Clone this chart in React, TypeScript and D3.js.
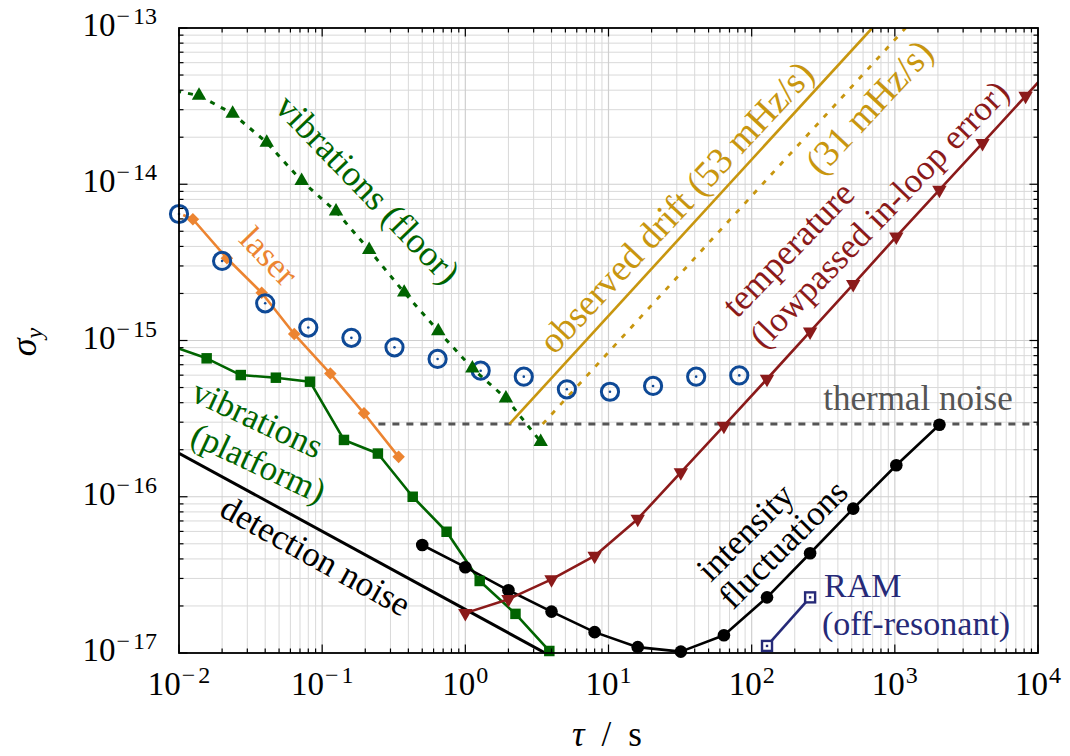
import React from 'react';
import * as d3 from 'd3';

// averaging times (s) and Allan deviations
const measTau = [0.01, 0.02, 0.04, 0.08, 0.16, 0.32, 0.64, 1.28, 2.56, 5.12, 10.24, 20.48, 40.96, 81.92];
const measSigma = [6.45e-15, 3.23e-15, 1.73e-15, 1.21e-15, 1.04e-15, 9.04e-16, 7.62e-16, 6.41e-16, 5.87e-16, 4.87e-16, 4.7e-16, 5.12e-16, 5.87e-16, 5.98e-16];

const laserTau = [0.0107, 0.0125, 0.0216, 0.0378, 0.0638, 0.114, 0.196, 0.342];
const laserSigma = [6.36e-15, 5.97e-15, 3.36e-15, 2.02e-15, 1.1e-15, 6.14e-16, 3.42e-16, 1.8e-16];

const platTau = [0.00897, 0.0156, 0.027, 0.0475, 0.0822, 0.142, 0.245, 0.429, 0.74, 1.26, 2.24, 3.86];
const platSigma = [9.2e-16, 7.69e-16, 6.01e-16, 5.78e-16, 5.45e-16, 2.31e-16, 1.89e-16, 1.0e-16, 5.97e-17, 2.89e-17, 1.78e-17, 1.03e-17];

const floorTau = [0.00792, 0.0138, 0.0237, 0.041, 0.0719, 0.125, 0.213, 0.374, 0.647, 1.12, 1.92, 3.36];
const floorSigma = [4.1e-14, 3.69e-14, 2.83e-14, 1.85e-14, 1.05e-14, 6.7e-15, 3.8e-15, 2.03e-15, 1.15e-15, 6.63e-16, 4.27e-16, 2.25e-16];

const detTau = [0.01, 4];
const detSigma = [1.9e-16, 9.5e-18];

const intTau = [0.5, 1, 2, 4, 8, 16, 32, 64, 128, 256, 512, 1024, 2048];
const intSigma = [4.91e-17, 3.54e-17, 2.52e-17, 1.84e-17, 1.36e-17, 1.09e-17, 1.02e-17, 1.3e-17, 2.27e-17, 4.35e-17, 8.39e-17, 1.59e-16, 2.89e-16];

const tempTau = [1, 2, 4, 8, 16, 32, 64, 128, 256, 512, 1024, 2048, 4096, 8192, 16384];
const tempSigma = [1.8e-17, 2.21e-17, 2.96e-17, 4.18e-17, 7.21e-17, 1.43e-16, 2.84e-16, 5.67e-16, 1.14e-15, 2.29e-15, 4.62e-15, 9.19e-15, 1.83e-14, 3.67e-14, 7.34e-14];

const ramTau = [128, 256];
const ramSigma = [1.11e-17, 2.27e-17];

const drift53Tau = [2.03, 695];
const drift53Sigma = [2.92e-16, 1e-13];
const drift31Tau = [3.47, 1188];
const drift31Sigma = [2.92e-16, 1e-13];

const thermalTau = [0.247, 1e4];
const thermalSigma = [2.92e-16, 2.92e-16];

const xDecades = [-2, -1, 0, 1, 2, 3, 4];
const yDecades = [-17, -16, -15, -14, -13];

const W = 1070;
const H = 756;
const plot = { left: 179, right: 1038, top: 28, bottom: 653 };

const FONT = "'Liberation Serif', 'DejaVu Serif', serif";
const BLUE = '#0e4996';
const ORANGE = '#ec8431';
const GREEN = '#006400';
const GOLD = '#c8960f';
const RED = '#8b1a1a';
const NAVY = '#262a78';
const GRAY = '#555555';

const x = d3.scaleLog().domain([1e-2, 1e4]).range([plot.left, plot.right]);
const y = d3.scaleLog().domain([1e-17, 1e-13]).range([plot.bottom, plot.top]);

const pts = (t: number[], s: number[]) => t.map((v, i) => [v, s[i]] as [number, number]);
const line = d3.line<[number, number]>().x(d => x(d[0])).y(d => y(d[1]));
const inside = (d: [number, number]) => d[0] >= 1e-2 && d[0] <= 1e4 && d[1] >= 1e-17 && d[1] <= 1e-13;

const minorX: number[] = [];
xDecades.slice(0, -1).forEach(e => { for (let k = 2; k <= 9; k++) minorX.push(k * Math.pow(10, e)); });
const minorY: number[] = [];
yDecades.slice(0, -1).forEach(e => { for (let k = 2; k <= 9; k++) minorY.push(k * Math.pow(10, e)); });

// "10" with a superscript exponent; the wide TeX minus is imitated with a little extra spacing
function Pow({ e }: { e: number }) {
  return (
    <>
      10
      {e < 0 ? (
        <tspan style={{ fontSize: 24 }} dy={-12} dx={1}>
          {'\u2212'}<tspan dx={3}>{Math.abs(e)}</tspan>
        </tspan>
      ) : (
        <tspan style={{ fontSize: 24 }} dy={-12} dx={1}>{e}</tspan>
      )}
    </>
  );
}

// one rotated line of text, centred on (cx, cy)
function Label({ cx, cy, angle, color, text, size = 35 }: any) {
  return (
    <text transform={`translate(${cx},${cy}) rotate(${angle})`} fill={color}
      style={{ fontFamily: FONT, fontSize: size }} textAnchor="middle" dy="0.3em">
      {text}
    </text>
  );
}

export default function App() {
  const meas = pts(measTau, measSigma);
  const laser = pts(laserTau, laserSigma);
  const plat = pts(platTau, platSigma);
  const floor = pts(floorTau, floorSigma);
  const inten = pts(intTau, intSigma);
  const temp = pts(tempTau, tempSigma);
  const ram = pts(ramTau, ramSigma);

  const diamond = d3.symbol().type(d3.symbolDiamond2).size(100)();
  const square = d3.symbol().type(d3.symbolSquare).size(110)();
  const triUp = d3.symbol().type(d3.symbolTriangle).size(90)();

  return (
    <svg width={W} height={H} style={{ position: 'absolute', left: 0, top: 0, background: 'white' }}>
      <defs>
        <clipPath id="plotClip">
          <rect x={plot.left} y={plot.top} width={plot.right - plot.left} height={plot.bottom - plot.top} />
        </clipPath>
      </defs>

      {/* grid */}
      <g stroke="#d9d9d9" strokeWidth={1}>
        {minorX.map(v => <line key={'gx' + v} x1={x(v)} x2={x(v)} y1={plot.top} y2={plot.bottom} />)}
        {minorY.map(v => <line key={'gy' + v} y1={y(v)} y2={y(v)} x1={plot.left} x2={plot.right} />)}
      </g>
      <g stroke="#cfcfcf" strokeWidth={1.2}>
        {xDecades.map(e => <line key={'Gx' + e} x1={x(10 ** e)} x2={x(10 ** e)} y1={plot.top} y2={plot.bottom} />)}
        {yDecades.map(e => <line key={'Gy' + e} y1={y(10 ** e)} y2={y(10 ** e)} x1={plot.left} x2={plot.right} />)}
      </g>

      {/* lines */}
      <g clipPath="url(#plotClip)" fill="none" strokeLinejoin="round">
        <path d={line(pts(thermalTau, thermalSigma)) || ''} stroke={GRAY} strokeWidth={3} strokeDasharray="7,7" />
        <path d={line(pts(detTau, detSigma)) || ''} stroke="black" strokeWidth={3} />
        <path d={line(laser) || ''} stroke={ORANGE} strokeWidth={2.6} />
        <path d={line(plat) || ''} stroke={GREEN} strokeWidth={2.6} />
        <path d={line(floor) || ''} stroke={GREEN} strokeWidth={3} strokeDasharray="5,7" />
        <path d={line(pts(drift53Tau, drift53Sigma)) || ''} stroke={GOLD} strokeWidth={2.6} />
        <path d={line(pts(drift31Tau, drift31Sigma)) || ''} stroke={GOLD} strokeWidth={2.8} strokeDasharray="5,8" />
        <path d={line(inten) || ''} stroke="black" strokeWidth={2.6} />
        <path d={line(temp) || ''} stroke={RED} strokeWidth={2.6} />
        <path d={line(ram) || ''} stroke={NAVY} strokeWidth={2.6} />
      </g>

      {/* markers */}
      <g fill={ORANGE}>
        {laser.slice(1).filter(inside).map((d, i) => (
          <path key={i} d={diamond || ''} transform={`translate(${x(d[0])},${y(d[1])})`} />
        ))}
      </g>
      <g>
        {meas.map((d, i) => (
          <g key={i} transform={`translate(${x(d[0])},${y(d[1])})`}>
            <circle r={8.6} fill="none" stroke={BLUE} strokeWidth={3} />
            <circle r={1.3} fill={BLUE} />
          </g>
        ))}
      </g>
      <g fill={GREEN}>
        {plat.filter(inside).map((d, i) => (
          <path key={i} d={square || ''} transform={`translate(${x(d[0])},${y(d[1])})`} />
        ))}
        {floor.filter(inside).map((d, i) => (
          <path key={i} d={triUp || ''} transform={`translate(${x(d[0])},${y(d[1])})`} />
        ))}
      </g>
      <g fill="black">
        {inten.filter(inside).map((d, i) => <circle key={i} cx={x(d[0])} cy={y(d[1])} r={6.3} />)}
      </g>
      <g fill={RED}>
        {temp.filter(inside).map((d, i) => (
          <path key={i} d={triUp || ''} transform={`translate(${x(d[0])},${y(d[1])}) rotate(180)`} />
        ))}
      </g>
      <g>
        {ram.map((d, i) => (
          <g key={i} transform={`translate(${x(d[0])},${y(d[1])})`}>
            <rect x={-5} y={-5} width={10} height={10} fill="white" stroke={NAVY} strokeWidth={2.4} />
            <rect x={-1.2} y={-1.2} width={2.4} height={2.4} fill={NAVY} />
          </g>
        ))}
      </g>

      {/* annotations */}
      <Label cx={367} cy={190} angle={46} color={GREEN} text="vibrations (floor)" size={36} />
      <Label cx={268} cy={257} angle={46} color={ORANGE} text="laser" />
      <Label cx={257} cy={420} angle={25} color={GREEN} text="vibrations" />
      <Label cx={258} cy={464} angle={25} color={GREEN} text="(platform)" />
      <Label cx={315} cy={557} angle={29} color="black" text="detection noise" />
      <Label cx={677} cy={208} angle={-47} color={GOLD} text="observed drift (53 mHz/s)" size={37} />
      <Label cx={870} cy={108} angle={-47} color={GOLD} text="(31 mHz/s)" size={37} />
      <Label cx={789} cy={250} angle={-46} color={RED} text="temperature" size={36} />
      <Label cx={880} cy={215} angle={-46} color={RED} text="(lowpassed in-loop error)" size={35} />
      <Label cx={746} cy={533} angle={-45} color="black" text="intensity" />
      <Label cx={784} cy={545} angle={-45} color="black" text="fluctuations" />
      <g style={{ fontFamily: FONT, fontSize: 34 }}>
        <text x={918} y={410} fill={GRAY} textAnchor="middle" style={{ fontSize: 35 }}>thermal noise</text>
        <text x={824} y={597} fill={NAVY}>RAM</text>
        <text x={822} y={635} fill={NAVY}>(off-resonant)</text>
      </g>

      {/* axes frame and ticks */}
      <g stroke="black" strokeWidth={1.2}>
        {minorX.map(v => (
          <g key={'tx' + v}>
            <line x1={x(v)} x2={x(v)} y1={plot.bottom} y2={plot.bottom - 4.5} />
            <line x1={x(v)} x2={x(v)} y1={plot.top} y2={plot.top + 4.5} />
          </g>
        ))}
        {minorY.map(v => (
          <g key={'ty' + v}>
            <line y1={y(v)} y2={y(v)} x1={plot.left} x2={plot.left + 4.5} />
            <line y1={y(v)} y2={y(v)} x1={plot.right} x2={plot.right - 4.5} />
          </g>
        ))}
        {xDecades.map(e => (
          <g key={'TX' + e}>
            <line x1={x(10 ** e)} x2={x(10 ** e)} y1={plot.bottom} y2={plot.bottom - 8.5} />
            <line x1={x(10 ** e)} x2={x(10 ** e)} y1={plot.top} y2={plot.top + 8.5} />
          </g>
        ))}
        {yDecades.map(e => (
          <g key={'TY' + e}>
            <line y1={y(10 ** e)} y2={y(10 ** e)} x1={plot.left} x2={plot.left + 8.5} />
            <line y1={y(10 ** e)} y2={y(10 ** e)} x1={plot.right} x2={plot.right - 8.5} />
          </g>
        ))}
      </g>
      <rect x={plot.left} y={plot.top} width={plot.right - plot.left} height={plot.bottom - plot.top}
        fill="none" stroke="black" strokeWidth={1.8} />

      {/* tick labels */}
      <g style={{ fontFamily: FONT }} fill="black">
        {xDecades.map(e => (
          <text key={'lx' + e} x={x(10 ** e)} y={695} textAnchor="middle" style={{ fontSize: 33 }}>
            <Pow e={e} />
          </text>
        ))}
        {yDecades.map(e => (
          <text key={'ly' + e} x={157} y={y(10 ** e) + 8} textAnchor="end" style={{ fontSize: 33 }}>
            <Pow e={e} />
          </text>
        ))}
      </g>

      {/* axis labels */}
      <text transform="translate(36,342) rotate(-90)" style={{ fontFamily: FONT, fontSize: 36 }} textAnchor="middle">
        <tspan fontStyle="italic">σ</tspan>
        <tspan fontStyle="italic" style={{ fontSize: 24 }} dy={6}>y</tspan>
      </text>
      <text x={607} y={746} style={{ fontFamily: FONT, fontSize: 35 }} textAnchor="middle">
        <tspan fontStyle="italic">τ</tspan>
        <tspan dx={17}>/</tspan>
        <tspan dx={17}>s</tspan>
      </text>
    </svg>
  );
}
